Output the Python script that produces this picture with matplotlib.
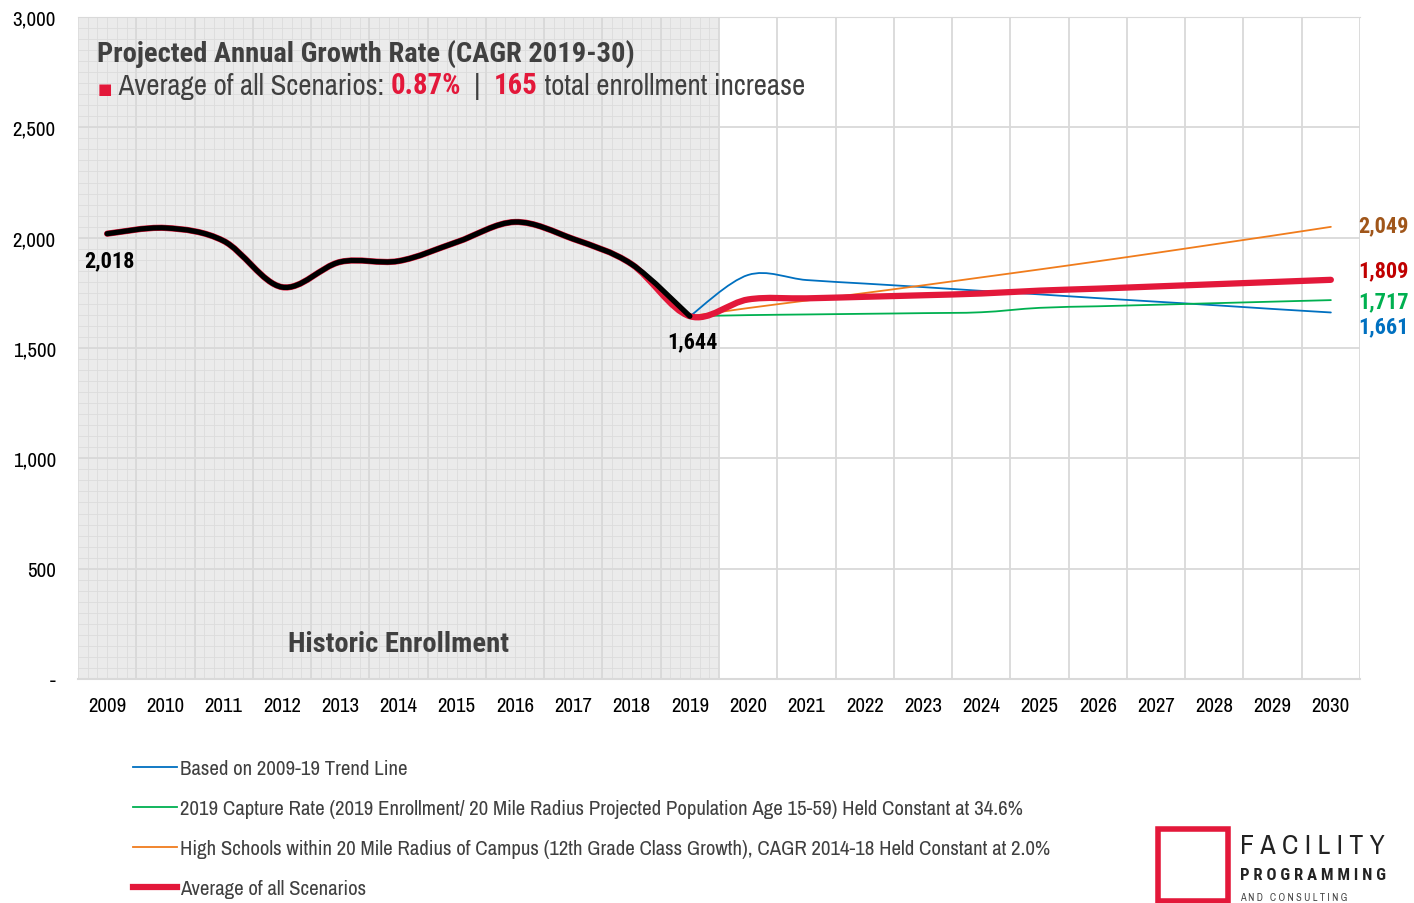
import numpy as np
import matplotlib.pyplot as plt
from matplotlib.path import Path
from matplotlib.patches import PathPatch, Rectangle
from matplotlib.lines import Line2D

plt.rcParams['font.family'] = ['Archivo Narrow', 'DejaVu Sans']
BOLD = ['Roboto Condensed', 'Fira Sans Condensed', 'PT Sans Narrow', 'Asap Condensed', 'DejaVu Sans']

# Datos
years = [str(y) for y in range(2009, 2031)]
historic = [2018, 2044, 1985, 1776, 1890, 1894, 1980, 2071, 1994, 1880, 1644]
trend = [1644, 1831, 1808, 1792, 1776, 1759, 1743, 1726, 1710, 1694, 1677, 1661]
capture = [1644, 1649, 1652, 1655, 1658, 1662, 1682, 1689, 1696, 1703, 1710, 1717]
highschool = [1644, 1681, 1715, 1749, 1784, 1820, 1856, 1893, 1931, 1970, 2009, 2049]
average = historic[:-1] + [1644, 1720, 1725, 1732, 1739, 1747, 1760, 1769, 1779, 1789, 1799, 1809]

legend_labels = [
    "Based on 2009-19 Trend Line",
    "2019 Capture Rate (2019 Enrollment/ 20 Mile Radius Projected Population Age 15-59) Held Constant at 34.6%",
    "High Schools within 20 Mile Radius of Campus (12th Grade Class Growth), CAGR 2014-18 Held Constant at 2.0%",
    "Average of all Scenarios",
]

BLUE = "#0070c0"
GREEN = "#00b050"
ORANGE = "#f07c1c"
RED = "#e3183a"
GRAY_TXT = "#404040"


def smooth_path(xs, ys):
    # curva suavizada tipo Excel (Bezier con tangentes Catmull-Rom)
    pts = np.column_stack([xs, ys]).astype(float)
    ext = np.vstack([pts[0], pts, pts[-1]])
    verts = [pts[0]]
    codes = [Path.MOVETO]
    for i in range(len(pts) - 1):
        p0, p1, p2, p3 = ext[i], ext[i + 1], ext[i + 2], ext[i + 3]
        verts += [p1 + (p2 - p0) / 6, p2 - (p3 - p1) / 6, p2]
        codes += [Path.CURVE4] * 3
    return Path(verts, codes)


def draw(ax, xs, ys, color, lw, z):
    ax.add_patch(PathPatch(smooth_path(xs, ys), fill=False, edgecolor=color,
                           lw=lw, capstyle='round', joinstyle='round', zorder=z))


fig = plt.figure(figsize=(14.14, 9.04), dpi=100)
ax = fig.add_axes([78 / 1414, 1 - 680 / 904, (1360 - 78) / 1414, (680 - 18) / 904])

n = len(years)
ax.set_xlim(-0.5, n - 0.5)
ax.set_ylim(0, 3000)

# Zona histórica sombreada con rejilla fina
ax.add_patch(Rectangle((-0.5, 0), 11, 3000, color="#ebebeb", zorder=0, lw=0))
for xm in np.arange(-0.5, 10.5, 1 / 6):
    ax.plot([xm, xm], [0, 3000], color="#dcdcdc", lw=0.6, zorder=0.5)
for ym in np.arange(0, 3000, 50):
    ax.plot([-0.5, 10.5], [ym, ym], color="#dcdcdc", lw=0.6, zorder=0.5)

# Rejilla principal
for xv in np.arange(0.5, n - 0.5, 1):
    ax.axvline(xv, color="#d9d9d9", lw=1.3, zorder=1)
for yv in range(500, 3001, 500):
    ax.axhline(yv, color="#d9d9d9", lw=1.3, zorder=1)
ax.axvline(n - 0.5, color="#d9d9d9", lw=1.3, zorder=1)

for s in ["left", "right"]:
    ax.spines[s].set_visible(False)
ax.spines["top"].set_color("#d9d9d9")
ax.spines["bottom"].set_color("#d9d9d9")
ax.spines["bottom"].set_linewidth(1.5)

ax.set_xticks(range(n))
ax.set_xticklabels(years, fontsize=15)
ax.set_yticks(range(0, 3001, 500))
ax.set_yticklabels(["-"] + [f"{v:,}" for v in range(500, 3001, 500)], fontsize=15)
ax.tick_params(axis="both", length=0)
ax.tick_params(axis="y", pad=16)
ax.tick_params(axis="x", pad=12)

# Series
xp = np.arange(10, 22)
draw(ax, xp, trend, BLUE, 1.3, 3)
draw(ax, xp, capture, GREEN, 1.3, 3)
draw(ax, xp, highschool, ORANGE, 1.3, 3)
draw(ax, np.arange(n), average, RED, 4.5, 4)
draw(ax, np.arange(11), historic, "black", 3.8, 5)

# Etiquetas de datos
ax.annotate("2,018", (0, historic[0]), xytext=(2, -19), textcoords="offset points",
            ha="center", va="center", fontsize=16, weight="bold", family=BOLD)
ax.annotate("1,644", (10, historic[-1]), xytext=(2, -18), textcoords="offset points",
            ha="center", va="center", fontsize=16, weight="bold", family=BOLD)
end_labels = [(highschool[-1], "#a0561a", 1), (average[-1], "#c00000", 7),
              (capture[-1], GREEN, -1), (trend[-1], BLUE, -10)]
for v, c, dy in end_labels:
    ax.annotate(f"{v:,}", (21, v), xytext=(38, dy), textcoords="offset points",
                ha="center", va="center", fontsize=16, weight="bold", color=c,
                family=BOLD)

# Títulos
fig.text(97 / 1414, 1 - 62 / 904, "Projected Annual Growth Rate (CAGR 2019-30)",
         fontsize=20.5, weight="bold", color=GRAY_TXT, va="baseline", family=BOLD)
fig.text(98 / 1414, 1 - 94 / 904, "■", fontsize=11, color=RED, va="baseline",
         family="DejaVu Sans")
parts = [(" Average of all Scenarios: ", GRAY_TXT, "normal"),
         ("0.87%", RED, "bold"),
         ("  |  ", GRAY_TXT, "normal"),
         ("165", RED, "bold"),
         (" total enrollment increase", GRAY_TXT, "normal")]
t = fig.text(112 / 1414, 1 - 95 / 904, parts[0][0], fontsize=20.8, color=parts[0][1],
             va="baseline")
for s, c, w in parts[1:]:
    fam = BOLD if w == "bold" else plt.rcParams['font.family']
    t = ax.annotate(s, xy=(1, 0), xycoords=t, va="bottom", ha="left",
                    fontsize=20.8, color=c, weight=w, family=fam)

fig.text(399 / 1414, 1 - 652 / 904, "Historic Enrollment", fontsize=20.5,
         weight="bold", color=GRAY_TXT, ha="center", va="baseline", family=BOLD)

# Leyenda
handles = [Line2D([], [], color=BLUE, lw=1.3),
           Line2D([], [], color=GREEN, lw=1.3),
           Line2D([], [], color=ORANGE, lw=1.3),
           Line2D([], [], color=RED, lw=4.5)]
leg = fig.legend(handles, legend_labels, loc="upper left",
                 bbox_to_anchor=(125 / 1414, 1 - 752 / 904), frameon=False,
                 fontsize=15, handlelength=2.1, handletextpad=0.15,
                 labelspacing=1.0, borderaxespad=0)
for txt in leg.get_texts():
    txt.set_color(GRAY_TXT)

# Logo
lax = fig.add_axes([1150 / 1414, 0, 264 / 1414, 90 / 904])
lax.set_xlim(0, 264)
lax.set_ylim(90, 0)
lax.axis("off")
lax.add_patch(Rectangle((8, 16), 70, 72, fill=False, edgecolor="#e3183a", lw=4))
lax.text(90, 33, "F A C I L I T Y", fontsize=20, va="center", ha="left", color="#222222")
lax.text(90, 62, "P R O G R A M M I N G", fontsize=12, va="center", ha="left",
         color="#222222", weight="bold", family=BOLD)
lax.text(90, 84, "A N D   C O N S U L T I N G", fontsize=7.5, va="center", ha="left",
         color="#444444")

fig.savefig("out.png", dpi=100)
